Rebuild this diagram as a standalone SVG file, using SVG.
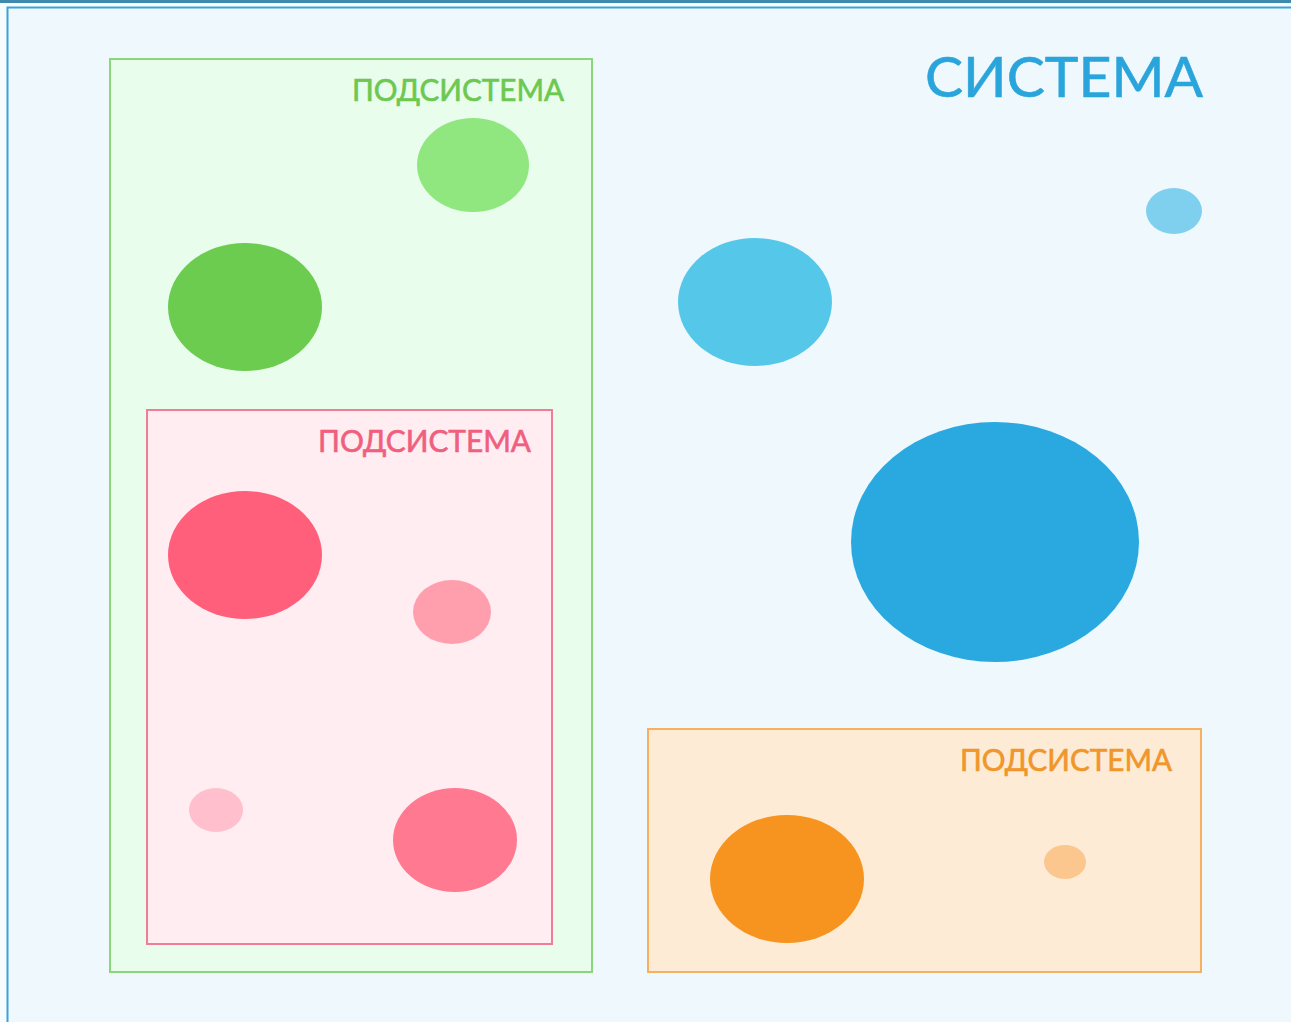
<svg xmlns="http://www.w3.org/2000/svg" width="1291" height="1022" viewBox="0 0 1291 1022">
<style>
.lbl{font-family:"Lato","Liberation Sans",sans-serif;font-weight:normal;stroke-width:0.6;}
</style>
<rect x="0" y="0" width="1291" height="1022" fill="#f6fbfe"/>
<rect x="0" y="0" width="1291" height="3" fill="#3f88ae"/>
<rect x="7.5" y="7.5" width="1320" height="1040" fill="#eff8fc" stroke="#3aa2d8" stroke-width="2"/>
<g id="system">
<text class="lbl" x="925" y="97" font-size="56" fill="#2aa5dc" stroke="#2aa5dc" textLength="278" lengthAdjust="spacingAndGlyphs">СИСТЕМА</text>
</g>
<g id="subsystem-green">
<rect x="110" y="59" width="482" height="913" fill="#e8fdec" stroke="#8cd67a" stroke-width="2"/>
<text class="lbl" x="352" y="101" font-size="30" fill="#6cc850" stroke="#6cc850" textLength="212" lengthAdjust="spacingAndGlyphs">ПОДСИСТЕМА</text>
<ellipse cx="473" cy="165" rx="56" ry="47" fill="#90e67f"/>
<ellipse cx="245" cy="307" rx="77" ry="64" fill="#6ccc50"/>
</g>
<g id="subsystem-pink">
<rect x="147" y="410" width="405" height="534" fill="#ffedf2" stroke="#f07c95" stroke-width="2"/>
<text class="lbl" x="318" y="452" font-size="30" fill="#f0607e" stroke="#f0607e" textLength="213" lengthAdjust="spacingAndGlyphs">ПОДСИСТЕМА</text>
<ellipse cx="245" cy="555" rx="77" ry="64" fill="#ff5f7a"/>
<ellipse cx="452" cy="612" rx="39" ry="32" fill="#ff9fae"/>
<ellipse cx="216" cy="810" rx="27" ry="22" fill="#ffbfcc"/>
<ellipse cx="455" cy="840" rx="62" ry="52" fill="#ff7a90"/>
</g>
<g id="subsystem-orange">
<rect x="648" y="729" width="553" height="243" fill="#fdebd6" stroke="#f5b060" stroke-width="2"/>
<text class="lbl" x="960" y="771" font-size="30" fill="#f0962a" stroke="#f0962a" textLength="212" lengthAdjust="spacingAndGlyphs">ПОДСИСТЕМА</text>
<ellipse cx="787" cy="879" rx="77" ry="64" fill="#f7941f"/>
<ellipse cx="1065" cy="862" rx="21" ry="17" fill="#fcc78f"/>
</g>
<g id="system-elements">
<ellipse cx="1174" cy="211" rx="28" ry="23" fill="#7fd0ee"/>
<ellipse cx="755" cy="302" rx="77" ry="64" fill="#55c8ea"/>
<ellipse cx="995" cy="542" rx="144" ry="120" fill="#2aa9e0"/>
</g>
<g id="connectors"></g>
</svg>
